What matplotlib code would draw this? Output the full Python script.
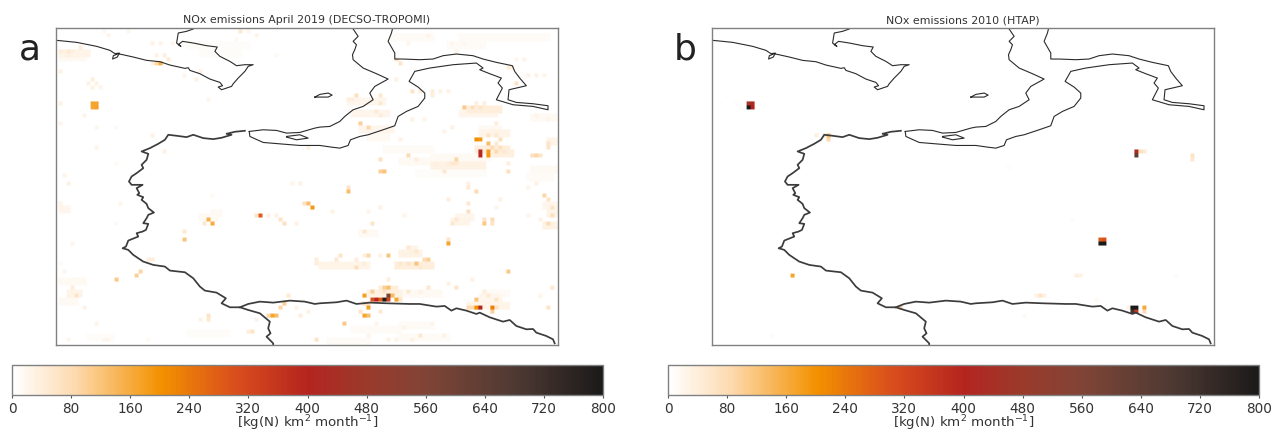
import numpy as np
import matplotlib
matplotlib.use('agg')
from matplotlib import pyplot as plt
from matplotlib.colors import LinearSegmentedColormap

# map units: the panel runs 168..1675 across and 85..1035 down, one emission cell is 12 units
cell = 12
vmin, vmax = 0, 800
cbar_ticks = [0, 80, 160, 240, 320, 400, 480, 560, 640, 720, 800]

title_a = 'NOx emissions April 2019 (DECSO-TROPOMI)'
title_b = 'NOx emissions 2010 (HTAP)'
cbar_label = r'[kg(N) km$^2$ month$^{-1}$]'

coast_top = [(170,122),(230,128),(290,140),(330,152),(345,162),(358,160),(352,172),(338,178),(340,168),(355,162),
             (400,172),(440,182),(480,186),(510,196),(555,206),(565,204),(570,212),(600,222),(630,238),(660,248),(668,258),
             (655,262),(665,270),(695,260),(700,252),(715,235),(735,215),(745,200),(760,195),(735,195),(710,198),
             (690,185),(660,170),(645,155),(652,142),(620,138),(580,130),(548,125),(535,135),(543,140),(530,130),
             (535,100),(560,95),(580,88)]
border_west = [(735,393),(705,396),(680,402),(695,405),(665,414),(640,418),(610,415),(580,405),(560,412),(530,408),(505,405),
               (495,420),(475,432),(450,445),(425,455),(445,462),(440,480),(425,495),(430,505),(410,520),(395,530),(387,545),
               (395,555),(428,555),(410,565),(418,580),(412,585),(430,592),(425,600),(440,612),(445,625),(462,638),(445,645),
               (440,655),(430,670),(445,672),(438,690),(428,695),(410,700),(415,710),(385,722),(378,740),(368,745),(385,750),
               (400,765),(430,785),(460,795),(495,800),(510,812),(555,817),(580,835),(600,860),(615,872),(650,878),(678,895),
               (665,910),(690,922),(720,922),(745,930),(780,940),(810,965),(805,985),(812,1000),(800,1010),(820,1030),(820,1035)]
border_east = [(720,922),(745,912),(780,905),(820,908),(870,902),(915,905),(945,912),(960,910),(1010,907),(1040,902),
               (1070,912),(1110,908),(1160,910),(1230,912),(1260,912),(1310,920),(1335,918),(1355,932),(1370,925),
               (1400,932),(1430,942),(1440,938),(1470,952),(1510,965),(1530,960),(1550,978),(1580,988),(1600,987),
               (1610,998),(1640,1008),(1660,1018),(1665,1030)]
coast_gulf = [(748,395),(750,410),(790,428),(850,433),(900,437),(960,437),(995,442),(1020,445),(1045,437),(1052,420),
              (1080,410),(1105,405),(1150,390),(1185,378),(1195,350),(1220,335),(1255,320),(1275,295),(1275,280),
              (1255,262),(1228,245),(1245,215),(1290,205),(1360,195),(1430,190),(1450,205),(1440,210),(1470,222),
              (1505,235),(1495,250),(1508,265),(1490,300),(1540,315),(1600,320),(1645,330),(1645,318),(1600,312),
              (1550,308),(1525,300),(1528,270),(1580,258),(1560,235),(1545,215),(1538,198),(1490,188),(1450,178),
              (1420,168),(1370,163),(1330,168),(1300,178),(1260,180),(1210,178),(1185,178),(1185,160),(1165,125),
              (1175,100),(1178,88)]
coast_strait = [(1060,88),(1075,110),(1060,125),(1070,135),(1065,150),(1058,165),(1060,180),(1090,205),(1130,222),(1165,238),
                (1125,260),(1110,280),(1120,300),(1090,320),(1060,330),(1035,350),(1020,365),(990,380),(960,382),(945,385),
                (900,398),(860,400),(830,392),(790,390),(748,395)]
lagoon = [(860,410),(900,405),(925,415),(890,420),(860,412)]
island = [(945,292),(960,284),(985,280),(997,286),(985,292),(945,292)]

# very pale wash of panel a, coarse blocks (8 rows, 12 columns)
wash_a = [[3,3,2,3,2,3,3,2,2,3,3,3],
          [3,2,2,1,1,1,3,2,2,2,2,3],
          [3,2,1,1,1,1,3,2,2,3,3,3],
          [2,2,1,1,1,2,1,1,2,3,3,3],
          [2,1,1,1,2,1,1,1,2,2,2,3],
          [2,1,1,1,1,1,2,3,3,3,2,2],
          [3,2,1,1,1,1,2,3,2,3,3,1],
          [3,2,2,1,1,2,3,3,2,2,2,1]]

# pale patches of panel a, two cells deep (x from, x to, y, value)
runs_a = [(180,270,150,25),(180,250,170,15),(1050,1150,300,20),(1060,1160,340,20),(1080,1180,380,20),(1100,1160,410,15),
          (1300,1450,495,30),(1200,1340,480,15),(1150,1300,440,12),(1300,1460,470,15),(1440,1520,400,25),(1430,1530,440,40),
          (1470,1540,452,35),(1440,1500,385,15),(1400,1500,320,40),(1380,1490,335,20),(1600,1665,350,15),(1640,1665,420,25),
          (1630,1665,610,20),(1640,1665,640,25),(1630,1665,670,30),(960,1100,790,25),(1190,1300,785,40),(1200,1260,760,30),
          (1220,1250,740,25),(1360,1400,660,25),(1370,1420,650,20),(1085,1130,690,15),(1100,1200,880,30),(1140,1190,860,40),
          (1200,1320,878,15),(1400,1520,905,25),(1440,1500,890,20),(1060,1200,985,12),(1200,1300,975,12),(980,1100,1020,10),
          (1200,1340,1005,12),(1460,1520,880,12),(180,200,620,20),(600,650,650,15),(640,660,630,15),(180,250,840,15),
          (200,240,880,25),(180,230,900,15),(570,690,990,8),(270,340,1005,8),(1180,1300,110,10),(1380,1650,110,10),
          (1350,1450,125,10),(560,740,130,8),(600,720,150,8),(1600,1670,500,15),(1590,1660,530,12),(1250,1450,520,8)]

# panel a, cells (x, y, value)
cells_a_west = [(278,311,170),(290,311,170),(278,323,165),(290,323,175),(185,160,40),(210,160,45),(197,150,30),
                (222,150,35),(240,148,40),(210,172,35),(185,215,30),(278,242,40),(265,255,30),(290,255,30),
                (278,265,30),(300,265,25),(185,310,30),(250,345,25),(185,372,20),(295,385,20),(350,378,15),
                (460,403,30),(497,450,30),(288,438,25),(345,492,15),(195,532,25),(210,555,25),(460,125,30),
                (485,135,25),(520,125,20),(330,105,25),(380,100,20),(315,100,15),(470,165,30),(495,170,40),
                (505,180,45),(470,185,90),(482,186,150),(460,195,30),(600,210,30),(590,240,30),(555,230,20),
                (630,295,20),(725,100,50),(775,112,25),(750,100,20),(825,170,15),(705,115,15),(925,440,35),
                (215,868,40),(230,890,60),(205,890,30),(253,925,30),(288,972,25),(185,610,25),(185,620,25),
                (210,555,30),(365,612,20),(220,728,20),(195,810,20),(185,795,15),(355,670,15),(205,1018,20),
                (315,1018,20),(330,1018,20),(440,1018,15),(405,822,100),(417,810,90),(350,833,110),(440,775,40),
                (460,775,40),(548,717,120),(555,695,50)]
cells_a_centre = [(628,660,150),(635,670,160),(615,675,50),(785,647,280),(770,647,60),(840,658,60),(855,670,70),
                  (810,645,30),(830,645,30),(885,670,30),(640,590,15),(855,915,100),(845,925,90),(865,890,50),
                  (820,950,170),(830,950,130),(808,950,90),(620,950,60),(620,962,50),(605,962,30),(760,995,60),
                  (750,995,40),(775,960,30),(905,950,40),(925,940,30),(890,925,30),(950,1020,60),(950,775,40),
                  (950,785,40),(905,555,30),(930,612,130),(937,625,190),(918,605,70),(880,555,25),(1060,298,40),
                  (1040,298,40),(1065,288,70),(1145,290,50),(1145,305,50),(1135,330,45),(1145,345,40),(1085,375,100),
                  (1108,388,90),(1085,365,50),(1205,195,60),(1195,175,60),(1240,270,60),(1240,280,40),(1260,275,40),
                  (1300,270,40),(1300,285,40),(1320,280,30),(1340,275,30),(1190,235,30),(1225,125,20),(1290,110,25),
                  (1390,125,20),(1355,125,20)]
cells_a_east = [(1390,322,110),(1415,322,70),(1440,322,60),(1430,312,40),(1450,310,40),(1435,415,200),(1447,415,190),
                (1465,403,60),(1490,405,50),(1505,415,70),(1460,428,130),(1480,440,80),(1505,440,70),(1495,425,50),
                (1447,457,390),(1447,463,390),(1460,457,180),(1470,463,190),(1485,450,80),(1510,460,50),(1610,462,90),
                (1595,462,70),(1625,462,60),(1645,430,60),(1645,440,60),(1365,475,90),(1220,470,80),(1145,475,70),
                (1250,478,40),(1200,420,30),(1150,510,120),(1145,515,100),(1158,520,100),(1330,510,50),(1360,495,50),
                (1375,495,50),(1345,490,40),(1315,495,35),(1530,510,70),(1530,490,40),(1495,375,40),(1490,395,30),
                (1355,380,30),(1335,395,25),(1240,355,30),(1275,355,25),(1575,180,25),(1550,178,20),(1520,205,40),
                (1535,205,40),(1550,252,60),(1585,228,30),(1610,228,30),(1635,228,25),(1365,158,25),(1610,345,25),
                (1650,360,25)]
cells_a_lower = [(1040,570,120),(1050,578,130),(995,635,30),(1145,625,30),(1100,635,25),(1215,648,25),(1115,670,60),
                 (1090,692,50),(1340,727,170),(1340,718,60),(1342,600,40),(1400,635,70),(1405,615,50),(1425,578,80),
                 (1400,565,50),(1450,670,110),(1480,660,80),(1455,660,60),(1475,670,60),(1375,660,50),(1360,670,50),
                 (1505,600,30),(1490,620,25),(1632,588,90),(1650,600,60),(1655,625,60),(1655,648,70),(1640,670,80),
                 (1650,670,60),(1620,660,30),(1585,648,25),(1590,565,25),(1615,555,30),(1400,555,30),(1040,565,60),
                 (1170,765,120),(1230,745,50),(1245,755,50),(1290,778,100),(1250,785,120),(1225,785,60),(1205,785,50),
                 (1270,780,80),(1260,808,50),(1110,765,90),(1095,765,40),(1020,765,60),(1005,775,50),(1065,798,70),
                 (1065,780,40),(1090,785,40),(1145,765,30),(1165,858,130),(1150,858,100),(1155,870,60),(1165,835,40),
                 (1115,880,100),(1090,892,180),(1115,902,300),(1130,902,400),(1145,902,280),(1168,892,560),(1168,902,330),
                 (1157,904,790),(1190,902,170),(1180,892,140),(1205,902,60),(1090,915,70),(1100,925,180),(1110,915,70),
                 (1090,948,170),(1100,948,130),(1085,935,60),(1030,972,110),(1138,938,50),(1285,858,50),(1230,880,50),
                 (1260,880,30),(1365,868,60),(1340,845,30),(1425,902,120),(1405,925,80),(1430,925,200),(1445,925,400),
                 (1475,925,230),(1480,925,230),(1475,937,100),(1495,925,70),(1470,890,50),(1490,902,60),(1450,880,40),
                 (1420,925,80),(1530,810,110),(1420,835,30),(1655,868,50),(1645,925,60),(1620,890,25),(1110,1010,25),
                 (1170,1020,30),(1195,1020,25),(1240,1020,30),(1260,1008,50),(1335,1010,30),(1125,970,25),(1215,980,25),
                 (1300,965,25)]

# panel b, cells (x, y, value)
cells_b = [(277,311,450),(289,311,420),(277,323,800),(289,323,400),(482,402,40),(502,402,40),(519,403,120),(519,415,90),
           (192,315,6),(242,315,8),(254,323,6),(1447,450,420),(1447,462,650),(1459,456,70),(1470,456,50),(1609,462,60),
           (1609,473,50),(1062,505,8),(405,822,170),(739,922,90),(727,922,20),(352,1007,10),(1330,717,280),(1342,717,300),
           (1330,728,800),(1342,728,800),(1257,822,35),(1269,822,30),(1157,890,60),(1147,890,30),(1167,890,30),(1107,948,15),
           (1317,902,15),(1252,660,8),(1412,925,30),(1435,925,800),(1447,925,800),(1435,937,700),(1447,937,350),(1465,925,160),
           (1465,937,80),(1557,822,12)]

colors = [(0.0, '#ffffff'), (0.1, '#fddcb4'), (0.25, '#f39200'), (0.375, '#da4f1c'), (0.5, '#b5241f'),
          (0.6, '#9a3a2c'), (0.7, '#804436'), (0.85, '#4f3a33'), (1.0, '#1b1a1a')]
cmap = LinearSegmentedColormap.from_list('nox', colors, N=256)

x_start, y_start = 164, 77


def make_grid(cells, wash=None, runs=()):
    ny, nx = (1035 - y_start + cell) // cell, (1675 - x_start + cell) // cell
    grid = np.zeros((ny, nx))
    if wash is not None:
        for j in range(ny):
            for i in range(nx):
                grid[j, i] = wash[j * 8 // ny][i * 12 // nx]
    for x0, x1, y, v in runs:
        j0 = (y - y_start) // cell
        for j in (j0, j0 + 1):
            for i in range((x0 - x_start) // cell, (x1 - x_start) // cell + 1):
                grid[j, i] = max(grid[j, i], v)
    for x, y, v in cells:
        j, i = (y - y_start) // cell, (x - x_start) // cell
        grid[j, i] = max(grid[j, i], v)
    return grid


def draw_panel(ax, cax, cells, wash, runs, title):
    grid = make_grid(cells, wash, runs)
    # the original is slightly soft, so smooth only the cell edges
    fine = np.kron(grid, np.ones((3, 3)))
    x1 = x_start + grid.shape[1] * cell
    y1 = y_start + grid.shape[0] * cell
    im = ax.imshow(fine, cmap=cmap, vmin=vmin, vmax=vmax, extent=(x_start, x1, y1, y_start), aspect='auto',
                   interpolation='bilinear', interpolation_stage='rgba')
    for line in [coast_top, coast_gulf, coast_strait, lagoon, island]:
        pts = np.array(line)
        ax.plot(pts[:, 0], pts[:, 1], color='#2b2b2b', lw=0.8)
    for line in [border_west, border_east]:
        pts = np.array(line)
        ax.plot(pts[:, 0], pts[:, 1], color='#3c3c3c', lw=1.25)
    ax.set_xlim(168, 1675)
    ax.set_ylim(1035, 85)
    ax.set_xticks([])
    ax.set_yticks([])
    ax.set_title(title, fontsize=7.9, color='#333333', pad=3.5)
    for s in ax.spines.values():
        s.set_color('#808080')
        s.set_linewidth(1.0)
    cb = fig.colorbar(im, cax=cax, orientation='horizontal', ticks=cbar_ticks)
    cb.ax.tick_params(labelsize=9.8, length=2, width=0.8, color='#555555', labelcolor='#333333', pad=3)
    cb.set_label(cbar_label, fontsize=9.6, color='#333333', labelpad=-1.5)
    cb.outline.set_edgecolor('#808080')
    cb.outline.set_linewidth(1.0)


W, H = 1271.0, 430.0
fig = plt.figure(figsize=(12.71, 4.30), dpi=100)
ax_a = fig.add_axes([56 / W, 1 - 345 / H, 502 / W, 317 / H])
ax_b = fig.add_axes([712 / W, 1 - 345 / H, 502 / W, 317 / H])
cax_a = fig.add_axes([12 / W, 1 - 395 / H, 591 / W, 30 / H])
cax_b = fig.add_axes([668 / W, 1 - 395 / H, 591 / W, 30 / H])

all_a = cells_a_west + cells_a_centre + cells_a_east + cells_a_lower
draw_panel(ax_a, cax_a, all_a, wash_a, runs_a, title_a)
draw_panel(ax_b, cax_b, cells_b, None, (), title_b)

fig.text(19 / W, 1 - 60 / H, 'a', fontsize=26, color='#222222')
fig.text(674 / W, 1 - 60 / H, 'b', fontsize=26, color='#222222')

fig.savefig('out.png', dpi=100)
